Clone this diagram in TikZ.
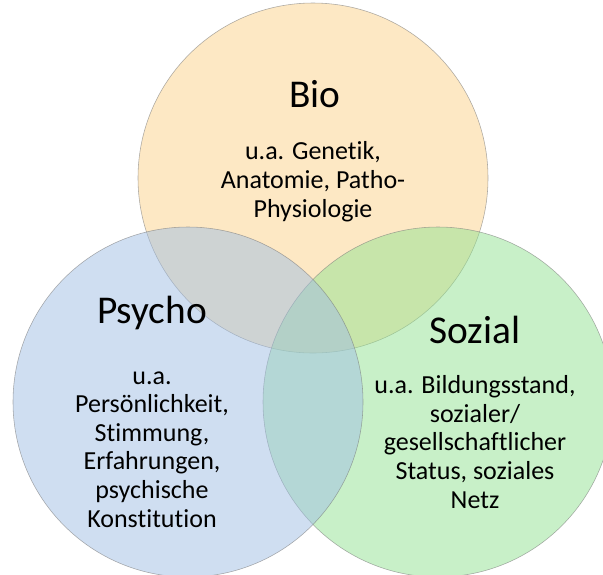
\documentclass[tikz,border=0pt]{standalone}
\usepackage{fontspec}
\setmainfont{Carlito}[Ligatures=NoCommon]
\usepackage{tikz}
\definecolor{biofill}{RGB}{251,209,137}
\definecolor{psychofill}{RGB}{160,190,228}
\definecolor{sozialfill}{RGB}{145,226,145}
\definecolor{rimgray}{RGB}{120,120,120}

\begin{document}
\begin{tikzpicture}[x=0.025cm, y=0.025cm,
  set/.style={fill opacity=0.5, draw=rimgray, draw opacity=0.6, line width=0.4pt},
  title/.style={anchor=base, inner sep=0pt, font=\fontsize{28}{34}\selectfont},
  body/.style={anchor=base, inner sep=0pt, align=center, font=\fontsize{18.5}{20.3}\selectfont}]
  \useasboundingbox (0,0) rectangle (603,-574);
  \clip (0,0) rectangle (603,-574);
  % the three sets
  \coordinate (bioC) at (313,-178);
  \coordinate (psychoC) at (188,-402);
  \coordinate (sozialC) at (438,-402);
  \filldraw[set, fill=biofill] (bioC) circle (175);
  \filldraw[set, fill=sozialfill] (sozialC) circle (175);
  \filldraw[set, fill=psychofill] (psychoC) circle (175);
  % labels (body nodes sit on the baseline of their last line)
  \node[title] (bio) at (315,-107) {Bio};
  \node[body] (biotext) at (313,-217) {u.a. Genetik,\\Anatomie, Patho-\\Physiologie};
  \node[title] (psycho) at (152,-323) {Psycho};
  \node[body] (psychotext) at (152,-527) {u.a.\\Persönlichkeit,\\Stimmung,\\Erfahrungen,\\psychische\\Konstitution};
  \node[title] (sozial) at (475,-343) {Sozial};
  \node[body] (sozialtext) at (475,-508) {u.a. Bildungsstand,\\sozialer/\\gesellschaftlicher\\Status, soziales\\Netz};
\end{tikzpicture}
\end{document}
